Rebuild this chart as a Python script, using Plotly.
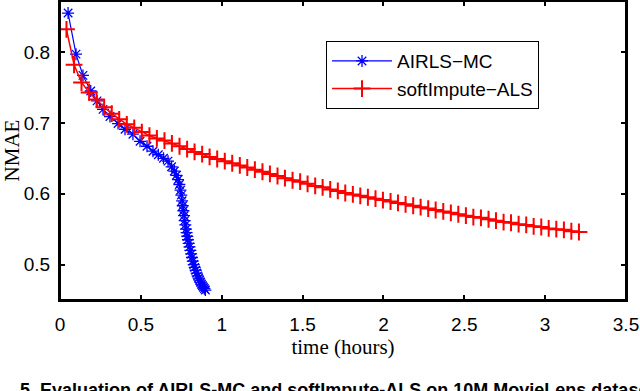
import plotly.graph_objects as go

# AIRLS-MC: time (hours) vs NMAE
airls_t = [0.050, 0.099, 0.142, 0.190, 0.229, 0.266, 0.309, 0.359, 0.402, 0.451,
           0.495, 0.538, 0.575, 0.608, 0.640, 0.668, 0.690, 0.707, 0.720, 0.730,
           0.738, 0.745, 0.750, 0.755, 0.759, 0.763, 0.767, 0.771, 0.775, 0.779,
           0.783, 0.787, 0.791, 0.796, 0.801, 0.806, 0.811, 0.816, 0.821, 0.827,
           0.833, 0.839, 0.845, 0.851, 0.857, 0.863, 0.869, 0.875, 0.881, 0.887,
           0.893, 0.899]
airls_nmae = [0.855, 0.797, 0.767, 0.745, 0.731, 0.719, 0.709, 0.699, 0.691, 0.684,
              0.674, 0.667, 0.660, 0.655, 0.650, 0.646, 0.638, 0.632, 0.626, 0.620,
              0.613, 0.605, 0.598, 0.590, 0.583, 0.576, 0.569, 0.562, 0.556, 0.550,
              0.545, 0.540, 0.535, 0.530, 0.525, 0.520, 0.515, 0.510, 0.505, 0.500,
              0.496, 0.492, 0.488, 0.484, 0.481, 0.478, 0.475, 0.472, 0.470, 0.468,
              0.466, 0.464]

# softImpute-ALS
soft_t = [0.040, 0.087, 0.133, 0.180, 0.226, 0.273, 0.320, 0.366, 0.413, 0.459,
          0.506, 0.553, 0.599, 0.646, 0.692, 0.739, 0.786, 0.832, 0.879, 0.925,
          0.972, 1.019, 1.065, 1.112, 1.158, 1.205, 1.252, 1.298, 1.345, 1.391,
          1.438, 1.485, 1.531, 1.578, 1.624, 1.671, 1.718, 1.764, 1.811, 1.857,
          1.904, 1.951, 1.997, 2.044, 2.090, 2.137, 2.184, 2.230, 2.277, 2.323,
          2.370, 2.417, 2.463, 2.510, 2.556, 2.603, 2.650, 2.696, 2.743, 2.789,
          2.836, 2.883, 2.929, 2.976, 3.022, 3.069, 3.116, 3.162, 3.209]
soft_nmae = [0.832, 0.782, 0.757, 0.743, 0.733, 0.722, 0.713, 0.705, 0.698, 0.693,
             0.687, 0.682, 0.678, 0.675, 0.671, 0.667, 0.663, 0.659, 0.656, 0.652,
             0.649, 0.646, 0.643, 0.640, 0.637, 0.634, 0.631, 0.628, 0.625, 0.622,
             0.619, 0.617, 0.614, 0.611, 0.609, 0.606, 0.604, 0.601, 0.599, 0.597,
             0.595, 0.593, 0.591, 0.589, 0.587, 0.585, 0.583, 0.581, 0.579, 0.577,
             0.575, 0.573, 0.571, 0.569, 0.567, 0.566, 0.564, 0.562, 0.560, 0.559,
             0.557, 0.556, 0.554, 0.553, 0.551, 0.550, 0.549, 0.547, 0.546]

x_ticks = [0, 0.5, 1, 1.5, 2, 2.5, 3, 3.5]
x_ticktext = ["0", "0.5", "1", "1.5", "2", "2.5", "3", "3.5"]
y_ticks = [0.5, 0.6, 0.7, 0.8]
y_ticktext = ["0.5", "0.6", "0.7", "0.8"]

caption = "5. Evaluation of AIRLS-MC and softImpute-ALS on 10M MovieLens dataset"

fig = go.Figure()

fig.add_trace(go.Scatter(
    x=airls_t, y=airls_nmae,
    mode="lines+markers",
    line=dict(color="#0000ff", width=1.2),
    marker=dict(symbol="asterisk-open", size=10, color="#0000ff",
                line=dict(color="#0000ff", width=1.3)),
    name="AIRLS\u2212MC"
))

fig.add_trace(go.Scatter(
    x=soft_t, y=soft_nmae,
    mode="lines+markers",
    line=dict(color="#ff0000", width=1.5),
    marker=dict(symbol="cross-thin-open", size=12, color="#ff0000",
                line=dict(color="#ff0000", width=2)),
    name="softImpute\u2212ALS"
))

axis_common = dict(
    showgrid=False, zeroline=False, automargin=False,
    showline=True, linecolor="black", linewidth=2,
    mirror="ticks", ticks="inside", ticklen=5, tickwidth=1.5, tickcolor="black",
    tickfont=dict(family="Liberation Sans, Arial", size=19, color="black"),
)

fig.update_xaxes(
    range=[0, 3.5], tickvals=x_ticks, ticktext=x_ticktext,
    ticklabelstandoff=6,
    title=dict(text="time (hours)", standoff=4,
               font=dict(family="Liberation Serif, serif", size=21, color="black")),
    **axis_common
)
fig.update_yaxes(
    range=[0.45, 0.872], tickvals=y_ticks, ticktext=y_ticktext,
    ticklabelstandoff=4,
    title=dict(text="NMAE", standoff=6,
               font=dict(family="Liberation Serif, serif", size=21, color="black")),
    **axis_common
)

# box around the axes, like matlab's "box on"
fig.add_shape(type="rect", xref="paper", yref="paper", x0=0, y0=0, x1=1, y1=1,
              line=dict(color="black", width=2), layer="above")

# caption of the figure, cut off by the bottom edge as in the source image
fig.add_annotation(
    text="<b>" + caption + "</b>",
    xref="paper", yref="paper", x=-0.075, y=-0.262,
    xanchor="left", yanchor="top", showarrow=False,
    font=dict(family="Liberation Sans, Arial", size=18, color="black")
)

fig.update_layout(
    width=640, height=391,
    margin=dict(l=60, r=14, t=1, b=91),
    plot_bgcolor="white", paper_bgcolor="white",
    legend=dict(
        x=0.47, y=0.866, xanchor="left", yanchor="top",
        bgcolor="white", bordercolor="black", borderwidth=1,
        font=dict(family="Liberation Sans, Arial", size=19, color="black"),
        itemwidth=60, tracegroupgap=0
    ),
)

fig.write_html("out.html", config={"displayModeBar": False})

# drop the default 8px body margin so the figure fills the window
with open("out.html", encoding="utf-8") as f:
    page = f.read()
page = page.replace("<head>", "<head><style>body{margin:0;overflow:hidden}</style>", 1)
with open("out.html", "w", encoding="utf-8") as f:
    f.write(page)
